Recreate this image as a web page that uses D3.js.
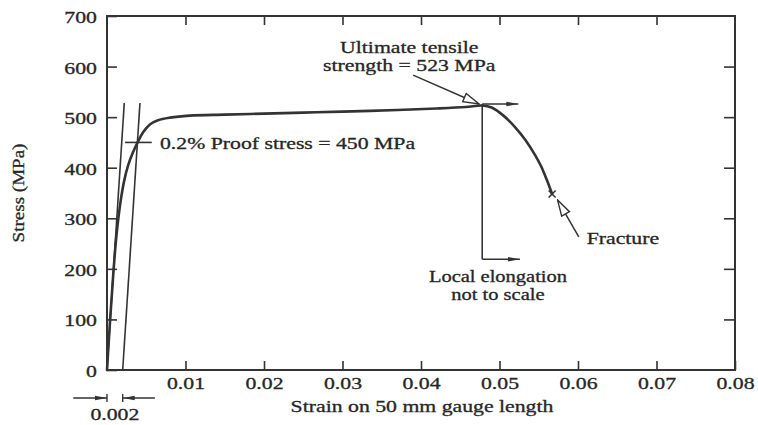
<!DOCTYPE html>
<html>
<head>
<meta charset="utf-8">
<script src="https://cdn.jsdelivr.net/npm/d3@7"></script>
<style>
  html, body { margin: 0; padding: 0; background: #fff; }
  svg { display: block; }
  text { font-family: "Liberation Serif", "Times New Roman", serif; fill: #262626; stroke: #262626; stroke-width: 0.3px; }
</style>
</head>
<body>
<svg id="chart" width="758" height="425"></svg>
<script>
// ---- data ----
const curveStrain = [0, 0.0004, 0.0008, 0.0012, 0.0017, 0.0022, 0.0027, 0.0033, 0.0039, 0.0046, 0.0055, 0.0065, 0.008, 0.0105, 0.015, 0.02, 0.025, 0.03, 0.037, 0.042, 0.0457, 0.0478, 0.049, 0.0505, 0.052, 0.0533, 0.0545, 0.0553, 0.056, 0.0567];
const curveStress = [0, 100, 190, 265, 330, 375, 405, 430, 450, 470, 486, 494, 499, 503, 505, 507, 509, 511, 514, 517, 520, 523, 519, 503, 480, 455, 426, 403, 377, 348];
const elasticStrain = [0, 0.0022];
const elasticStress = [0, 528];
const offsetStrain = [0.002, 0.0042];
const offsetStress = [0, 528];
const xTickValues = [0.01, 0.02, 0.03, 0.04, 0.05, 0.06, 0.07, 0.08];
const xTickLabels = ["0.01", "0.02", "0.03", "0.04", "0.05", "0.06", "0.07", "0.08"];
const yTickValues = [0, 100, 200, 300, 400, 500, 600, 700];
const yTickLabels = ["0", "100", "200", "300", "400", "500", "600", "700"];
const proofStress = 450;
const utsStrain = 0.0478, utsStress = 523;
const fractureStrain = 0.0567, fractureStress = 348;
const gaugeOffset = 0.002;

// ---- layout ----
const svg = d3.select("#chart");
const ink = "#333";
const SX = 1.28; // horizontal stretch of the scanned lettering
const x = d3.scaleLinear().domain([0, 0.08]).range([107, 735]);
const y = d3.scaleLinear().domain([0, 700]).range([370, 16]);

// defs: arrowheads
const defs = svg.append("defs");
defs.append("marker").attr("id", "openHead")
  .attr("viewBox", "0 -6 18 12").attr("refX", 17).attr("refY", 0)
  .attr("markerUnits", "userSpaceOnUse").attr("markerWidth", 18).attr("markerHeight", 12)
  .attr("orient", "auto")
  .append("path").attr("d", "M1,-4.5L17,0L1,4.5Z")
  .attr("fill", "#fff").attr("stroke", ink).attr("stroke-width", 1.4);
defs.append("marker").attr("id", "solidHead")
  .attr("viewBox", "0 -3 12 6").attr("refX", 12).attr("refY", 0)
  .attr("markerUnits", "userSpaceOnUse").attr("markerWidth", 12).attr("markerHeight", 6)
  .attr("orient", "auto")
  .append("path").attr("d", "M0,-2.2L12,0L0,2.2Z").attr("fill", ink);

function label(txt, px, py, anchor, size) {
  return svg.append("text")
    .attr("transform", `translate(${px},${py}) scale(${SX},1)`)
    .attr("text-anchor", anchor || "start")
    .style("font-size", (size || 17) + "px")
    .text(txt);
}

// ---- axes ----
const xFmt = d => xTickLabels[xTickValues.indexOf(d)];
const yFmt = d => yTickLabels[yTickValues.indexOf(d)];

const gx = svg.append("g").attr("transform", `translate(0,${y(0)})`)
  .call(d3.axisBottom(x).tickValues(xTickValues).tickFormat(xFmt).tickSizeInner(-9).tickSizeOuter(0));
gx.selectAll("text").attr("y", 0).attr("dy", 19).attr("transform", `scale(${SX},1)`).style("font-size", "17px");

const gxt = svg.append("g").attr("transform", `translate(0,${y(700)})`)
  .call(d3.axisTop(x).tickValues(xTickValues.slice(0, 7)).tickFormat("").tickSizeInner(-9).tickSizeOuter(0));

const gy = svg.append("g").attr("transform", `translate(${x(0)},0)`)
  .call(d3.axisLeft(y).tickValues(yTickValues).tickFormat(yFmt).tickSizeInner(-10).tickSizeOuter(0));
gy.selectAll("text").attr("x", -10 / SX).attr("dy", 6.5).attr("transform", `scale(${SX},1)`).style("font-size", "17px");

const gyr = svg.append("g").attr("transform", `translate(${x(0.08)},0)`)
  .call(d3.axisRight(y).tickValues(yTickValues.slice(1, 7)).tickFormat("").tickSizeInner(-11).tickSizeOuter(0));

[gx, gxt, gy, gyr].forEach(g => {
  g.select(".domain").remove();
  g.selectAll("line").attr("stroke", ink).attr("stroke-width", 1.6);
  g.selectAll("text").attr("fill", "#262626").style("font-family", '"Liberation Serif", serif');
});

// frame
svg.append("rect")
  .attr("x", x(0)).attr("y", y(700))
  .attr("width", x(0.08) - x(0)).attr("height", y(0) - y(700))
  .attr("fill", "none").attr("stroke", ink).attr("stroke-width", 2);

// axis titles
label("Strain on 50 mm gauge length", 422, 412, "middle", 17);
svg.append("text")
  .attr("transform", `translate(24,193) rotate(-90) scale(1.12,1)`)
  .attr("text-anchor", "middle").style("font-size", "17px")
  .text("Stress (MPa)");

// ---- elastic and offset lines ----
const line = d3.line().x(d => x(d[0])).y(d => y(d[1]));
svg.append("path").datum(d3.zip(elasticStrain, elasticStress))
  .attr("d", line).attr("fill", "none").attr("stroke", ink).attr("stroke-width", 1.6);
svg.append("path").datum(d3.zip(offsetStrain, offsetStress))
  .attr("d", line).attr("fill", "none").attr("stroke", ink).attr("stroke-width", 1.6);

// ---- stress-strain curve ----
svg.append("path").datum(d3.zip(curveStrain, curveStress))
  .attr("d", d3.line().x(d => x(d[0])).y(d => y(d[1])).curve(d3.curveCatmullRom.alpha(0.5)))
  .attr("fill", "none").attr("stroke", ink).attr("stroke-width", 2.6)
  .attr("stroke-linejoin", "round").attr("stroke-linecap", "round");

// ---- proof stress annotation ----
svg.append("line")
  .attr("x1", x(0.0023)).attr("x2", x(0.0057))
  .attr("y1", y(proofStress)).attr("y2", y(proofStress))
  .attr("stroke", ink).attr("stroke-width", 1.6);
label("0.2% Proof stress = 450 MPa", x(0.00675), y(proofStress) + 6.5, "start", 17);

// ---- ultimate tensile strength ----
label("Ultimate tensile", x(0.0385), 53, "middle", 17);
label("strength = 523 MPa", x(0.0385), 71, "middle", 17);
svg.append("line")
  .attr("x1", x(0.039)).attr("y1", y(583))
  .attr("x2", x(0.0474)).attr("y2", y(526))
  .attr("stroke", ink).attr("stroke-width", 1.5)
  .attr("marker-end", "url(#openHead)");

// ---- local elongation bracket ----
svg.append("line")
  .attr("x1", x(utsStrain)).attr("x2", x(utsStrain))
  .attr("y1", y(526)).attr("y2", y(219))
  .attr("stroke", ink).attr("stroke-width", 1.6);
svg.append("line")
  .attr("x1", x(utsStrain)).attr("x2", x(0.0524))
  .attr("y1", y(526)).attr("y2", y(526))
  .attr("stroke", ink).attr("stroke-width", 1.4).attr("marker-end", "url(#solidHead)");
svg.append("line")
  .attr("x1", x(utsStrain)).attr("x2", x(0.0526))
  .attr("y1", y(219)).attr("y2", y(219))
  .attr("stroke", ink).attr("stroke-width", 1.4).attr("marker-end", "url(#solidHead)");
label("Local elongation", x(0.0498), 282, "middle", 16);
label("not to scale", x(0.0498), 300, "middle", 16);

// ---- fracture ----
const fx = x(fractureStrain), fy = y(fractureStress);
svg.append("path")
  .attr("d", `M${fx - 3.5},${fy - 3.5}L${fx + 3.5},${fy + 3.5}M${fx - 3.5},${fy + 3.5}L${fx + 3.5},${fy - 3.5}`)
  .attr("stroke", ink).attr("stroke-width", 1.5);
svg.append("line")
  .attr("x1", x(0.0601)).attr("y1", y(263))
  .attr("x2", x(0.0574)).attr("y2", y(336))
  .attr("stroke", ink).attr("stroke-width", 1.5)
  .attr("marker-end", "url(#openHead)");
label("Fracture", x(0.0611), 244, "start", 17);

// ---- 0.002 gauge marker below axis ----
const gy0 = 398;
svg.append("line").attr("x1", x(-0.0043)).attr("x2", x(0)).attr("y1", gy0).attr("y2", gy0)
  .attr("stroke", ink).attr("stroke-width", 1.4).attr("marker-end", "url(#solidHead)");
svg.append("line").attr("x1", x(gaugeOffset + 0.0041)).attr("x2", x(gaugeOffset)).attr("y1", gy0).attr("y2", gy0)
  .attr("stroke", ink).attr("stroke-width", 1.4).attr("marker-end", "url(#solidHead)");
[0, gaugeOffset].forEach(v => {
  svg.append("line").attr("x1", x(v)).attr("x2", x(v)).attr("y1", gy0 - 4).attr("y2", gy0 + 4)
    .attr("stroke", ink).attr("stroke-width", 1.4);
});
label("0.002", (x(0) + x(gaugeOffset)) / 2, 420, "middle", 17);
</script>
</body>
</html>
